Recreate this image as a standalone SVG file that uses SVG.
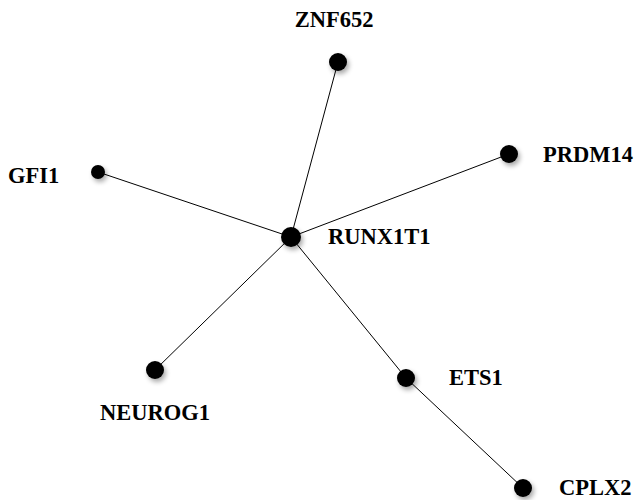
<svg xmlns="http://www.w3.org/2000/svg" width="638" height="500" viewBox="0 0 638 500">
<defs>
<filter id="sh" x="-100%" y="-100%" width="300%" height="300%">
<feGaussianBlur in="SourceAlpha" stdDeviation="2.5"/>
<feOffset dx="2" dy="3" result="b"/>
<feComponentTransfer><feFuncA type="linear" slope="0.35"/></feComponentTransfer>
<feMerge><feMergeNode/><feMergeNode in="SourceGraphic"/></feMerge>
</filter>
<style>
.n{fill:#000;filter:url(#sh)}
.e{stroke:#000;stroke-width:1;fill:none}
.t{font-family:"Liberation Serif","Times New Roman",serif;font-weight:bold;font-size:22.5px;fill:#000}
</style>
</defs>
<rect width="638" height="500" fill="#fff"/>
<g id="edges">
<line class="e" x1="291" y1="237" x2="338" y2="62"/>
<line class="e" x1="291" y1="237" x2="98" y2="172"/>
<line class="e" x1="291" y1="237" x2="509" y2="154"/>
<line class="e" x1="291" y1="237" x2="155" y2="370"/>
<line class="e" x1="291" y1="237" x2="406" y2="378"/>
<line class="e" x1="406" y1="378" x2="523" y2="488"/>
</g>
<g id="ZNF652"><circle class="n" cx="338" cy="62" r="9"/><text class="t" x="334" y="27" text-anchor="middle">ZNF652</text></g>
<g id="RUNX1T1"><circle class="n" cx="291" cy="237" r="10"/><text class="t" x="328" y="244">RUNX1T1</text></g>
<g id="GFI1"><circle class="n" cx="98" cy="172" r="7"/><text class="t" x="8" y="183">GFI1</text></g>
<g id="PRDM14"><circle class="n" cx="509" cy="154" r="9"/><text class="t" x="543" y="162">PRDM14</text></g>
<g id="NEUROG1"><circle class="n" cx="155" cy="370" r="9"/><text class="t" x="100" y="420">NEUROG1</text></g>
<g id="ETS1"><circle class="n" cx="406" cy="378" r="9"/><text class="t" x="449" y="385">ETS1</text></g>
<g id="CPLX2"><circle class="n" cx="523" cy="488" r="9"/><text class="t" x="559" y="495">CPLX2</text></g>
</svg>
